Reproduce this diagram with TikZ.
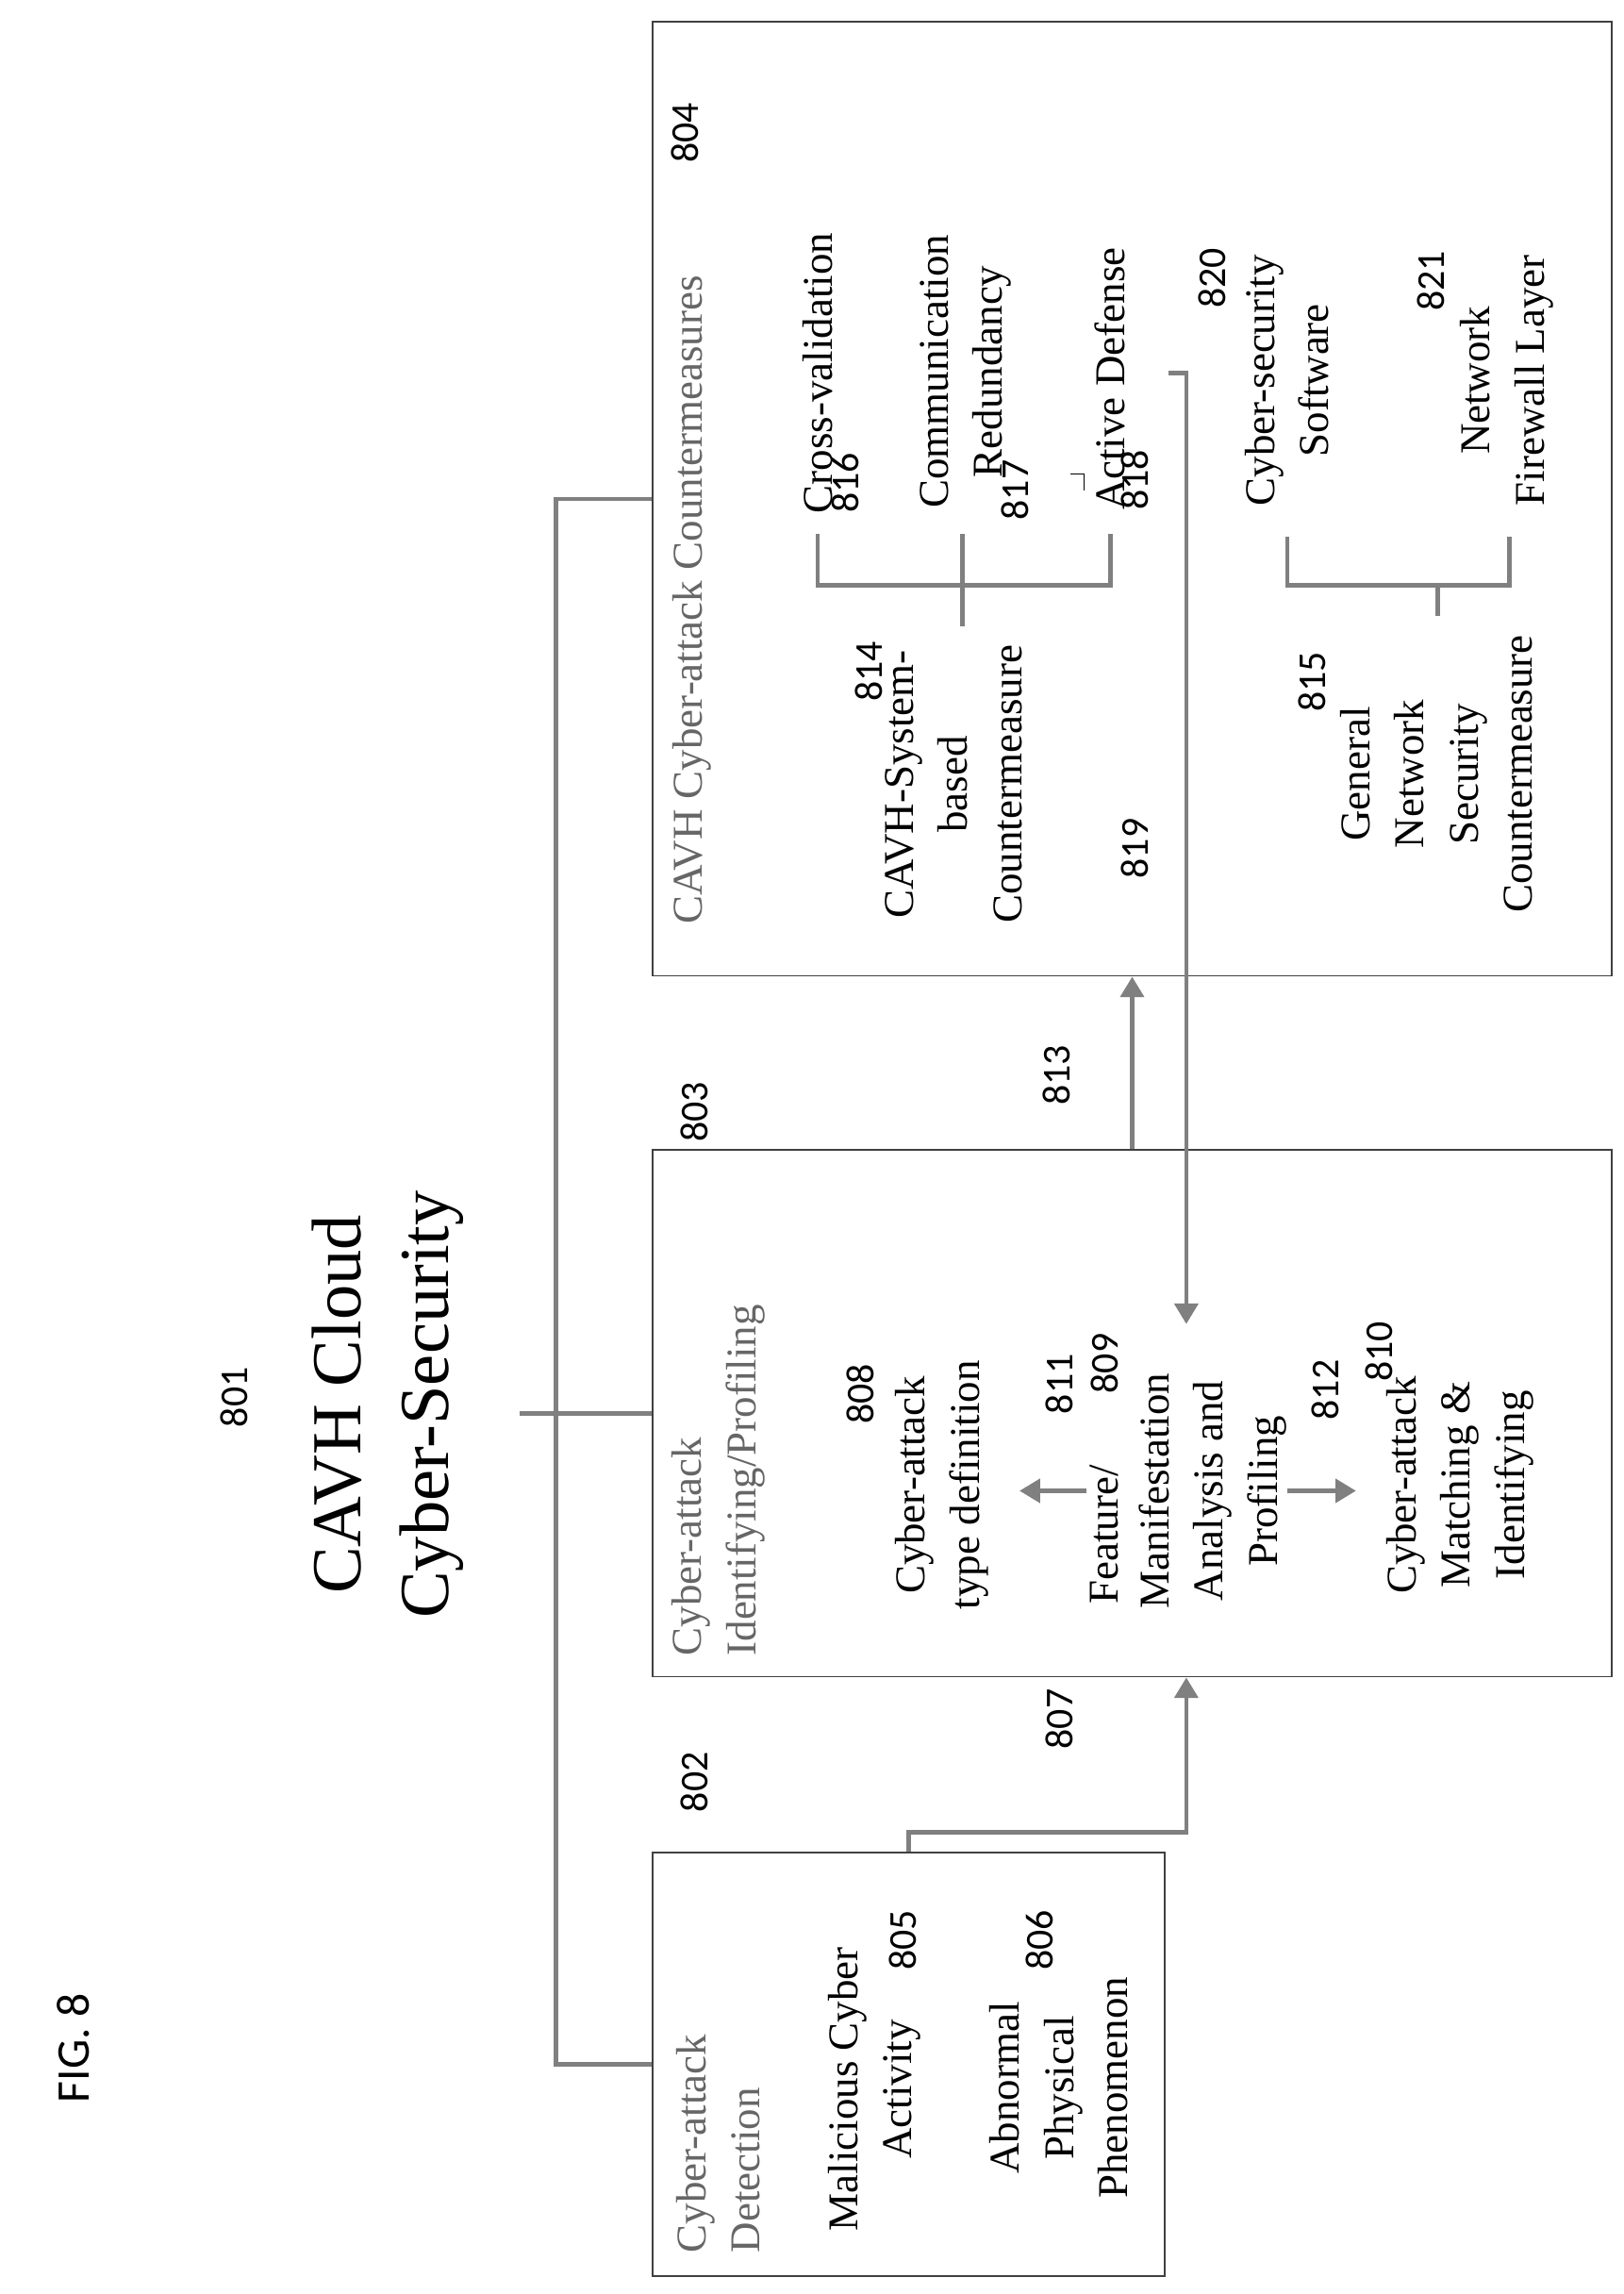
\documentclass[tikz,border=0pt]{standalone}
\usepackage{fontspec}
\setmainfont{Liberation Serif}
\newfontfamily\numfont{Carlito}
\usetikzlibrary{arrows.meta}

\begin{document}
\begin{tikzpicture}[x=1pt,y=-1pt]
	\tikzstyle{box}=[draw=black!75,line width=1.2pt,inner sep=0pt]
	\tikzstyle{txt}=[rotate=90,align=center,inner sep=0pt,font=\fontsize{29}{37}\selectfont]
	\tikzstyle{head}=[txt,align=left,anchor=west,text=black!60]
	\tikzstyle{num}=[rotate=90,inner sep=0pt,font=\numfont\fontsize{27}{32}\selectfont]
	\tikzstyle{conn}=[draw=black!50,line width=3pt]
	\tikzstyle{arr}=[conn,-{Triangle[width=16pt,length=14pt]}]
	\useasboundingbox (0,0) rectangle (1110,1568);
	% titles
	\node[num,font=\numfont\fontsize{32}{38}\selectfont] (fig) at (50,1400) {FIG. 8};
	\node[txt,font=\fontsize{48}{60}\selectfont] (ttl) at (265,960) {CAVH Cloud\\Cyber-Security};
	\node[num] (n801) at (160,955) {801};
	% boxes
	\node[box,minimum width=350,minimum height=290] (det) at (621,1411) {};
	\node[box,minimum width=656,minimum height=360] (idp) at (774,966) {};
	\node[box,minimum width=656,minimum height=652] (cm) at (774,341) {};
	\node[num] (n802) at (475,1218) {802};
	\node[num] (n803) at (475,760) {803};
	\node[num] (n804) at (468,91) {804};
	\node[num] (n807) at (724,1175) {807};
	\node[num] (n813) at (722,735) {813};
	% detection
	\node[head] (hdet) at (491,1540) {Cyber-attack\\Detection};
	\node[txt] (mca) at (598,1428) {Malicious Cyber\\Activity};
	\node[num] (n805) at (617,1326) {805};
	\node[txt] (app) at (724,1427) {Abnormal\\Physical\\Phenomenon};
	\node[num] (n806) at (711,1326) {806};
	% identifying / profiling
	\node[head] (hidp) at (491,1132) {Cyber-attack\\Identifying/Profiling};
	\node[num] (n808) at (588,953) {808};
	\node[txt] (ctd) at (644,1015) {Cyber-attack\\type definition};
	\node[num] (n811) at (724,946) {811};
	\node[num] (n809) at (755,932) {809};
	\node[txt] (feat) at (755,1049) {Feature/};
	\node[txt] (fmap) at (829,1019) {Manifestation\\Analysis and\\Profiling};
	\node[num] (n812) at (906,950) {812};
	\node[num] (n810) at (943,924) {810};
	\node[txt] (cmi) at (998,1015) {Cyber-attack\\Matching \&\\Identifying};
	% countermeasures
	\node[head] (hcm) at (473,632) {CAVH Cyber-attack Countermeasures};
	\node[txt,anchor=west] (cv) at (559,351) {Cross-validation};
	\node[num] (n816) at (578,330) {816};
	\node[txt] (cr) at (660,254) {Communication\\Redundancy};
	\node[num] (n817) at (694,335) {817};
	\node[txt,anchor=west] (ad) at (759,349) {Active Defense};
	\node[num] (n818) at (776,328) {818};
	\node[num] (n814) at (594,459) {814};
	\node[txt] (sbc) at (652,536) {CAVH-System-\\based\\Countermeasure};
	\node[num] (n819) at (776,580) {819};
	\node[num] (n820) at (829,190) {820};
	\node[txt] (css) at (880,260) {Cyber-security\\Software};
	\node[num] (n821) at (978,192) {821};
	\node[txt] (nfl) at (1030,260) {Network\\Firewall Layer};
	\node[num] (n815) at (897,466) {815};
	\node[txt] (gnsc) at (982,529) {General\\Network\\Security\\Countermeasure};
	% connectors
	\coordinate (bus) at (380,0);
	\coordinate (tick) at (355,966);
	\coordinate (adout) at (799,255);
	\coordinate (fmin) at (811,905);
	\draw[conn] (det.west) -| (bus |- cm.west) -- (cm.west);
	\draw[conn] (tick) -- (idp.west);
	\draw[arr] (det.north) -- ++(0,-13) -| ([xshift=37pt]idp.south);
	\draw[arr] (idp.north) -- (cm.south);
	\draw[arr] (adout) -| (fmin);
	\draw[arr] (743,1019) -- (697,1019);
	\draw[arr] (880,1019) -- (927,1019);
	\draw[conn] (559,365) |- (759,400) -- (759,365);
	\draw[conn] (658,365) -- (658,428);
	\draw[conn] (880,367) |- (1032,400) -- (1032,367);
	\draw[conn] (983,400) -- (983,421);
	\draw[line width=1pt] (732,324) -- (741,324) -- (741,335);
\end{tikzpicture}
\end{document}
